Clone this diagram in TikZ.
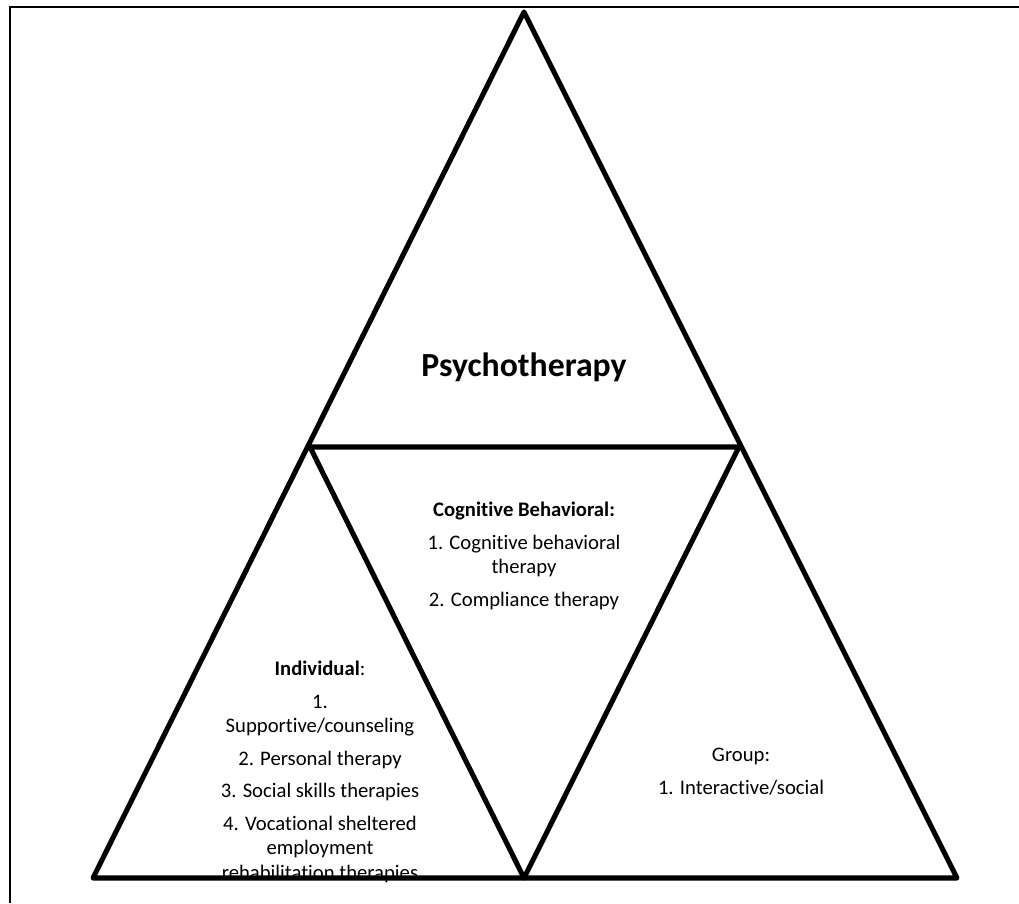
\documentclass[tikz,border=0pt]{standalone}
\usepackage{fontspec}
\setmainfont{Carlito}[Ligatures=NoCommon]
\usetikzlibrary{positioning}

\begin{document}
\begin{tikzpicture}[x=0.025cm,y=-0.025cm,
  edge/.style={line width=3.6pt,line join=round},
  frame/.style={line width=1.6pt},
  txt/.style={align=center,inner sep=0pt,font=\fontsize{14.7}{17.4}\selectfont}]
\useasboundingbox (0,0) rectangle (1019,903);
% corners of the four triangles
\coordinate (apex) at (524,12);
\coordinate (ml) at (310,447);
\coordinate (mr) at (739,447);
\coordinate (bl) at (93,878);
\coordinate (bm) at (524,878);
\coordinate (br) at (957,878);
% page frame
\coordinate (fr) at (1019,7);
\coordinate (fc) at (10,7);
\coordinate (fb) at (10,903);
\draw[frame] (fr) -- (fc) -- (fb);
% labels
\node[txt,font=\fontsize{24}{28}\selectfont\bfseries] (psy) at (524,367) {Psychotherapy};
\node[txt,anchor=north] (cbt) at (524,502) {\textbf{Cognitive Behavioral:}\\[5.7pt]
  1. Cognitive behavioral\\ therapy\\[5.7pt]
  2. Compliance therapy};
\node[txt,anchor=north] (ind) at (320,661) {\textbf{Individual}:\\[5.7pt]
  1.\\ Supportive/counseling\\[5.7pt]
  2. Personal therapy\\[5.7pt]
  3. Social skills therapies\\[5.7pt]
  4. Vocational sheltered\\ employment\\ rehabilitation therapies};
\node[txt,anchor=north] (grp) at (741,748) {Group:\\[5.7pt]
  1. Interactive/social};
% triangles
\draw[edge] (apex) -- (bl) -- (br) -- cycle;
\draw[edge] (ml) -- (mr) -- (bm) -- cycle;
\end{tikzpicture}
\end{document}
